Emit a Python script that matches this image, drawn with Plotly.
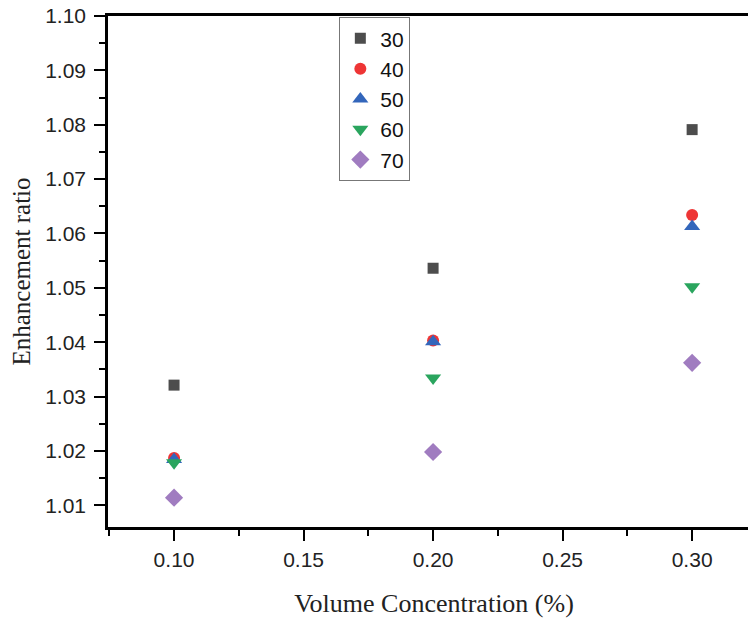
import plotly.graph_objects as go

conc = [0.10, 0.20, 0.30]
series_names = ["30", "40", "50", "60", "70"]
vals_30 = [1.0321, 1.0536, 1.0791]
vals_40 = [1.0187, 1.0403, 1.0634]
vals_50 = [1.0184, 1.0401, 1.0613]
vals_60 = [1.0178, 1.0334, 1.0502]
vals_70 = [1.0114, 1.0198, 1.0362]

series_vals = [vals_30, vals_40, vals_50, vals_60, vals_70]
symbols = ["square", "circle", "triangle-up", "triangle-down", "diamond"]
colors = ["#4d4d4d", "#ee3535", "#3366bb", "#2aa55e", "#a07cc0"]
sizes = [11, 12, 14, 14, 14]

fig = go.Figure()
for name, v, s, c, sz in zip(series_names, series_vals, symbols, colors, sizes):
    fig.add_trace(go.Scatter(x=conc, y=v, mode="markers", name=name,
                             marker=dict(symbol=s, color=c, size=sz, line=dict(width=0))))

sans = "Liberation Sans, Arial, sans-serif"
serif = "Liberation Serif, Times New Roman, serif"

# figure is slightly wider than the window: the chart is cropped on its right side
fig.update_layout(
    width=760, height=619,
    margin=dict(l=108, r=0, t=16, b=92),
    paper_bgcolor="white", plot_bgcolor="white",
    showlegend=True,
    legend=dict(x=0.3545, y=0.998, xanchor="left", yanchor="top",
                bordercolor="#777777", borderwidth=1.2, bgcolor="white",
                font=dict(family=sans, size=21, color="#111111"),
                itemwidth=30, tracegroupgap=0),
    xaxis=dict(range=[0.0745, 0.3262], tickvals=[0.10, 0.15, 0.20, 0.25, 0.30],
               ticktext=["0.10", "0.15", "0.20", "0.25", "0.30"],
               ticks="outside", ticklen=11, tickwidth=2, tickcolor="black",
               minor=dict(ticks="outside", ticklen=6, tickwidth=1.5, tickcolor="black",
                          tickvals=[0.075, 0.125, 0.175, 0.225, 0.275, 0.325]),
               showline=True, linewidth=2.5, linecolor="black", mirror=True,
               showgrid=False, zeroline=False, automargin=False,
               ticklabelstandoff=1, ticklabeloverflow="allow",
               tickfont=dict(family=sans, size=21, color="#222222"),
               title=dict(text="Volume Concentration (%)", standoff=24,
                          font=dict(family=serif, size=26, color="#222222"))),
    yaxis=dict(range=[1.0060, 1.10], tickvals=[1.01, 1.02, 1.03, 1.04, 1.05, 1.06, 1.07, 1.08, 1.09, 1.10],
               ticktext=["1.01", "1.02", "1.03", "1.04", "1.05", "1.06", "1.07", "1.08", "1.09", "1.10"],
               ticks="outside", ticklen=11, tickwidth=2, tickcolor="black",
               minor=dict(ticks="outside", ticklen=6, tickwidth=1.5, tickcolor="black",
                          tickvals=[1.015, 1.025, 1.035, 1.045, 1.055, 1.065, 1.075, 1.085, 1.095]),
               showline=True, linewidth=2.5, linecolor="black", mirror=False,
               showgrid=False, zeroline=False, automargin=False,
               ticklabelstandoff=4, ticklabeloverflow="allow",
               tickfont=dict(family=sans, size=21, color="#222222"),
               title=dict(text="Enhancement ratio", standoff=8,
                          font=dict(family=serif, size=25, color="#222222"))),
)

fig.write_html("out.html", config={"displayModeBar": False},
               post_script="document.body.style.margin='0';document.body.style.overflow='hidden';")
